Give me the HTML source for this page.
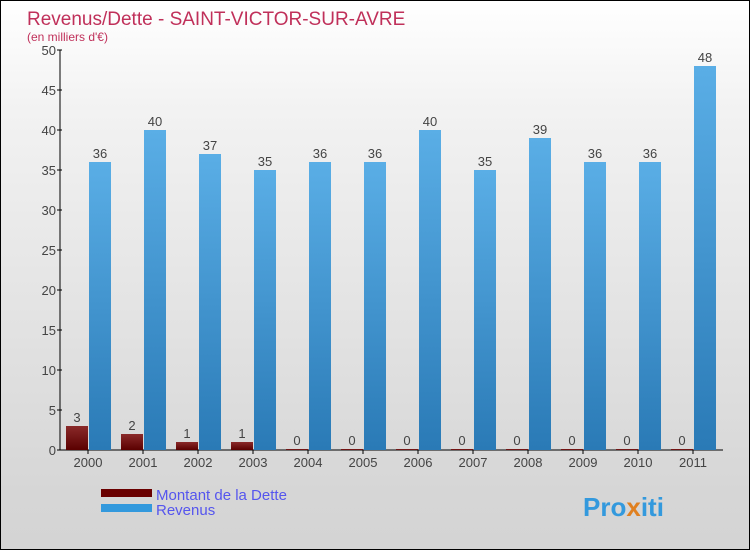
<!DOCTYPE html>
<html><head><meta charset="utf-8"><style>
body{margin:0;width:750px;height:550px;overflow:hidden;font-family:"Liberation Sans",sans-serif}
#wrap{position:relative;width:748px;height:548px;border:1px solid #000;background:linear-gradient(#ffffff,#f2f2f2 20%,#d6d6d6 90%,#d4d4d4)}
</style></head><body>
<div id="wrap">
<svg id="chart" width="748" height="548" xmlns="http://www.w3.org/2000/svg">
<defs>
<linearGradient id="gb" x1="0" y1="0" x2="0" y2="1"><stop offset="0" stop-color="#5aaee6"/><stop offset="1" stop-color="#2a7ab6"/></linearGradient>
<linearGradient id="gr" x1="0" y1="0" x2="0" y2="1"><stop offset="0" stop-color="#8a2a2a"/><stop offset="1" stop-color="#5a0000"/></linearGradient>
</defs>
<text x="26" y="24" font-size="19" fill="#c0305a">Revenus/Dette - SAINT-VICTOR-SUR-AVRE</text>
<text x="26" y="40" font-size="12" fill="#c0305a">(en milliers d'€)</text>
<g id="plot"></g>
<rect x="100" y="488" width="51" height="8" fill="#6a0000"/>
<rect x="100" y="503" width="51" height="8" fill="#3399dd"/>
<text x="155" y="499" font-size="15" fill="#5555ee">Montant de la Dette</text>
<text x="155" y="514" font-size="15" fill="#5555ee">Revenus</text>
<text x="582" y="515" font-size="26" font-weight="bold" fill="#3399dd">Pro<tspan fill="#e08020">x</tspan>iti</text>
</svg>
</div>
<script>
const years=["2000","2001","2002","2003","2004","2005","2006","2007","2008","2009","2010","2011"];
const dette=[3,2,1,1,0,0,0,0,0,0,0,0];
const revenus=[36,40,37,35,36,36,40,35,39,36,36,48];
const ticks=[0,5,10,15,20,25,30,35,40,45,50];
const NS="http://www.w3.org/2000/svg";
const g=document.getElementById('plot');
const x0=59,y0=449,step=55,ppu=8;
const y=v=>y0-v*ppu;
const xc=i=>x0+28+i*step;
function mk(t,a){const e=document.createElementNS(NS,t);for(const k in a)e.setAttribute(k,a[k]);g.appendChild(e);return e;}
let ax=mk('line',{x1:x0,y1:y(50),x2:x0,y2:y0,stroke:'#000'});

let bx=mk('line',{x1:x0,y1:y0,x2:722,y2:y0,stroke:'#000'});

ticks.forEach(t=>{
 let l=mk('line',{x1:x0-3,y1:y(t),x2:x0+2,y2:y(t),stroke:'#000'});
 
 let tx=mk('text',{x:x0-4,y:y(t)+5,'font-size':13,fill:'#444','text-anchor':'end'});tx.textContent=t;
 
});
years.forEach((yr,i)=>{
 const c=xc(i);
 let hd=Math.max(dette[i]*ppu,1);
 let r1=mk('rect',{x:c-22,y:y0-hd,width:22,height:hd,fill:'url(#gr)'});
 
 let t1=mk('text',{x:c-11,y:y0-hd-4,'font-size':13,fill:'#444','text-anchor':'middle'});t1.textContent=dette[i];
 
 let r2=mk('rect',{x:c+1,y:y(revenus[i]),width:22,height:revenus[i]*ppu,fill:'url(#gb)'});
 
 let t2=mk('text',{x:c+12,y:y(revenus[i])-4,'font-size':13,fill:'#444','text-anchor':'middle'});t2.textContent=revenus[i];
 
 let tk=mk('line',{x1:c,y1:y0,x2:c,y2:y0+4,stroke:'#000'});
 
 let xl=mk('text',{x:c,y:y0+17,'font-size':13,fill:'#444','text-anchor':'middle'});xl.textContent=yr;
 
});
</script>
</body></html>
